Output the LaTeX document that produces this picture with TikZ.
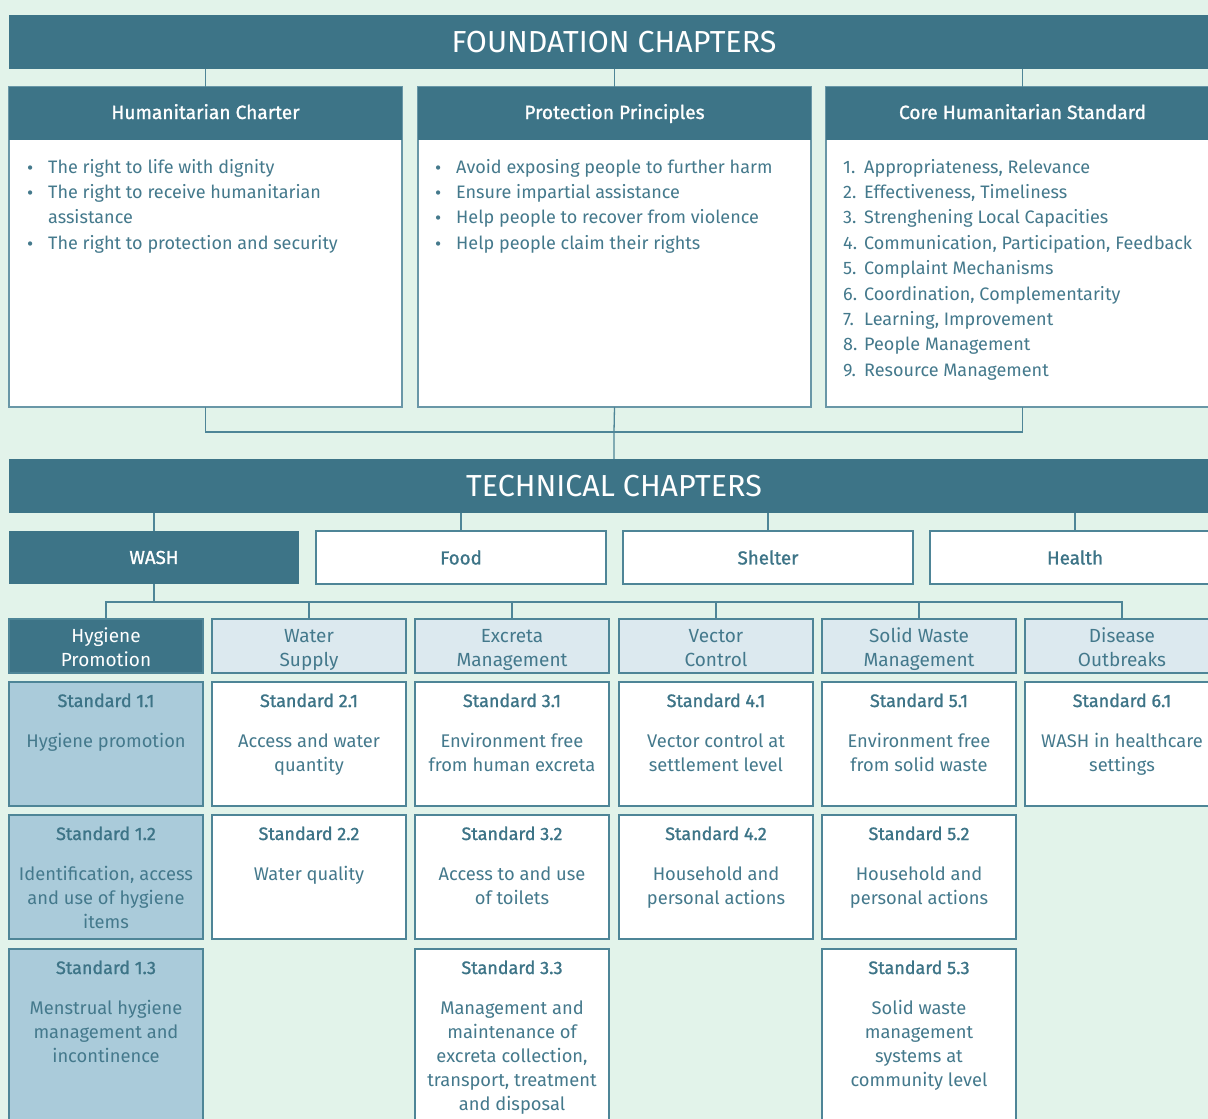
\documentclass[tikz,border=0pt]{standalone}
\usepackage{fontspec}
\setmainfont{Fira Sans}
\newfontfamily\medfont[FakeBold=1.2]{Fira Sans}
\definecolor{bgc}{HTML}{E2F3EA}
\definecolor{dark}{HTML}{3D7487}
\definecolor{catfill}{HTML}{DCE9EF}
\definecolor{hygfill}{HTML}{AACBDA}
\definecolor{lnc}{HTML}{4E8597}
\definecolor{txt}{HTML}{44798C}
\newcommand\fitfont[4]{%
  \setbox0=\hbox{#2\fontsize{10pt}{12pt}\selectfont #4}%
  \pgfmathsetmacro#1{10*#3/\the\wd0}\global\let#1#1}
\AtBeginDocument{%
\fitfont\szTitle{}{325}{FOUNDATION CHAPTERS}%
\fitfont\szHead{}{247}{Core Humanitarian Standard}%
\fitfont\szBody{}{328}{Communication, Participation, Feedback}%
\fitfont\szStd{}{74}{Standard}%
\fitfont\szDesc{}{174}{Identification, access}%
\fitfont\szCat{}{111}{Management}%
\fitfont\szWash{}{56}{Health}}
\newcommand\ml[1]{\begin{tabular}[t]{@{}c@{}}#1\end{tabular}}
\newcommand\bul{\raisebox{-1pt}{\fontsize{19pt}{19pt}\selectfont\textbullet}}
\newcommand\titlefont{\fontsize{\szTitle pt}{\szTitle pt}\selectfont}
\newcommand\headfont{\medfont\fontsize{\szHead pt}{\szHead pt}\selectfont}
\newcommand\bodyfont{\fontsize{\szBody pt}{25.4pt}\selectfont}
\newcommand\stdfont{\medfont\fontsize{\szStd pt}{24pt}\selectfont}
\newcommand\descfont{\fontsize{\szDesc pt}{24pt}\selectfont}
\newcommand\catfont{\fontsize{\szCat pt}{24pt}\selectfont}
\newcommand\washfont{\medfont\fontsize{\szWash pt}{\szWash pt}\selectfont}
\tikzset{
  bar/.style={anchor=north west, inner sep=0, outer sep=0, minimum width=1210, minimum height=54, fill=dark, text=white, font=\titlefont},
  fbox/.style={anchor=north west, inner sep=0, outer sep=0, minimum width=393, minimum height=320, fill=white, draw=lnc!85, line width=1.3},
  fhead/.style={anchor=north west, inner sep=0, outer sep=0, minimum width=393, minimum height=53, fill=dark, text=white, font=\headfont, text height=12pt, text depth=1pt},
  listtext/.style={anchor=base west, inner sep=0, text=txt, font=\bodyfont},
  chap/.style={anchor=north west, inner sep=0, outer sep=0, minimum width=290, minimum height=53, font=\washfont},
  chapd/.style={chap, fill=dark, text=white},
  chapw/.style={chap, fill=white, draw=lnc, line width=1.3, text=dark},
  cat/.style={anchor=north west, inner sep=0, outer sep=0, minimum width=194, minimum height=54, draw=lnc, line width=1.3},
  catd/.style={cat, fill=dark},
  catl/.style={cat, fill=catfill},
  cattext/.style={anchor=base, inner sep=0, font=\catfont},
  stdbox/.style={anchor=north west, inner sep=0, outer sep=0, minimum width=194, draw=lnc, line width=1.5, fill=white},
  hyg/.style={fill=hygfill},
  stdtitle/.style={anchor=base, inner sep=0, text=dark, font=\stdfont},
  stddesc/.style={anchor=base, inner sep=0, text=txt, font=\descfont},
  conn/.style={draw=lnc, line width=1.3},
}
\newcommand\catbox[5]{%
  \node[#1] (#2) at (#3,619) {};
  \node[cattext, text=#4] (#2t) at ([yshift=-23pt]#2.north) {\ml{#5}};}
\newcommand\stdb[7]{%
  \node[stdbox,#1, minimum height=#5] (#2) at (#3,#4) {};
  \node[stdtitle] (#2t) at ([yshift=-25pt]#2.north) {#6};
  \node[stddesc] (#2d) at ([yshift=-65pt]#2.north) {\ml{#7}};}
\begin{document}
\begin{tikzpicture}[x=1pt,y=-1pt]
\useasboundingbox (0,0) rectangle (1208,1119);
\clip (0,0) rectangle (1208,1119);
\fill[bgc] (0,0) rectangle (1208,1119);

% Foundation
\node[bar] (fc) at (9,15) {FOUNDATION CHAPTERS};
\node[fbox] (hc) at (9,87) {};
\node[fhead] (hch) at (9,87) {Humanitarian Charter};
\node[fbox] (pp) at (418,87) {};
\node[fhead] (pph) at (418,87) {Protection Principles};
\node[fbox] (cs) at (826,87) {};
\node[fhead] (csh) at (826,87) {Core Humanitarian Standard};
\foreach \n in {hch,pph,csh} \draw[conn] (\n.north) -- (\n.north |- fc.south);

\node[listtext] (hcl) at (27,173) {\begin{tabular}[t]{@{}p{21pt}@{}l@{}}
\bul & The right to life with dignity\\
\bul & The right to receive humanitarian\\
 & assistance\\
\bul & The right to protection and security\end{tabular}};
\node[listtext] (ppl) at (435,173) {\begin{tabular}[t]{@{}p{21pt}@{}l@{}}
\bul & Avoid exposing people to further harm\\
\bul & Ensure impartial assistance\\
\bul & Help people to recover from violence\\
\bul & Help people claim their rights\end{tabular}};
\node[listtext] (csl) at (843,173) {\begin{tabular}[t]{@{}p{21pt}@{}l@{}}
1. & Appropriateness, Relevance\\
2. & Effectiveness, Timeliness\\
3. & Strenghening Local Capacities\\
4. & Communication, Participation, Feedback\\
5. & Complaint Mechanisms\\
6. & Coordination, Complementarity\\
7. & Learning, Improvement\\
8. & People Management\\
9. & Resource Management\end{tabular}};

% Technical
\node[bar] (tc) at (9,459) {TECHNICAL CHAPTERS};
\coordinate (fj) at (614,432);
\draw[conn] (hc.south) |- (fj) -| (cs.south);
\draw[conn] (pp.south) -- (fj) -- (tc.north);

\node[chapd] (wash) at (9,531) {WASH};
\node[chapw] (food) at (316,531) {Food};
\node[chapw] (shelter) at (623,531) {Shelter};
\node[chapw] (health) at (930,531) {Health};
\foreach \n in {wash,food,shelter,health} \draw[conn] (\n.north) -- (\n.north |- tc.south);

% Categories
\catbox{catd}{c1}{9}{white}{Hygiene\\Promotion}
\catbox{catl}{c2}{212}{txt}{Water\\Supply}
\catbox{catl}{c3}{415}{txt}{Excreta\\Management}
\catbox{catl}{c4}{619}{txt}{Vector\\Control}
\catbox{catl}{c5}{822}{txt}{Solid Waste\\Management}
\catbox{catl}{c6}{1025}{txt}{Disease\\Outbreaks}
\coordinate (cj) at (0,602);
\draw[conn] (wash.south) -- (wash.south |- cj);
\draw[conn] (c1.north) |- (c6.north |- cj) -- (c6.north);
\foreach \n in {c2,c3,c4,c5} \draw[conn] (\n.north) -- (\n.north |- cj);

% Standards
\stdb{hyg}{s11}{9}{682}{124}{Standard 1.1}{Hygiene promotion}
\stdb{hyg}{s12}{9}{815}{124}{Standard 1.2}{Identification, access\\and use of hygiene\\items}
\stdb{hyg}{s13}{9}{949}{200}{Standard 1.3}{Menstrual hygiene\\management and\\incontinence}
\stdb{}{s21}{212}{682}{124}{Standard 2.1}{Access and water\\quantity}
\stdb{}{s22}{212}{815}{124}{Standard 2.2}{Water quality}
\stdb{}{s31}{415}{682}{124}{Standard 3.1}{Environment free\\from human excreta}
\stdb{}{s32}{415}{815}{124}{Standard 3.2}{Access to and use\\of toilets}
\stdb{}{s33}{415}{949}{200}{Standard 3.3}{Management and\\maintenance of\\excreta collection,\\transport, treatment\\and disposal}
\stdb{}{s41}{619}{682}{124}{Standard 4.1}{Vector control at\\settlement level}
\stdb{}{s42}{619}{815}{124}{Standard 4.2}{Household and\\personal actions}
\stdb{}{s51}{822}{682}{124}{Standard 5.1}{Environment free\\from solid waste}
\stdb{}{s52}{822}{815}{124}{Standard 5.2}{Household and\\personal actions}
\stdb{}{s53}{822}{949}{200}{Standard 5.3}{Solid waste\\management\\systems at\\community level}
\stdb{}{s61}{1025}{682}{124}{Standard 6.1}{WASH in healthcare\\settings}
\end{tikzpicture}
\end{document}
